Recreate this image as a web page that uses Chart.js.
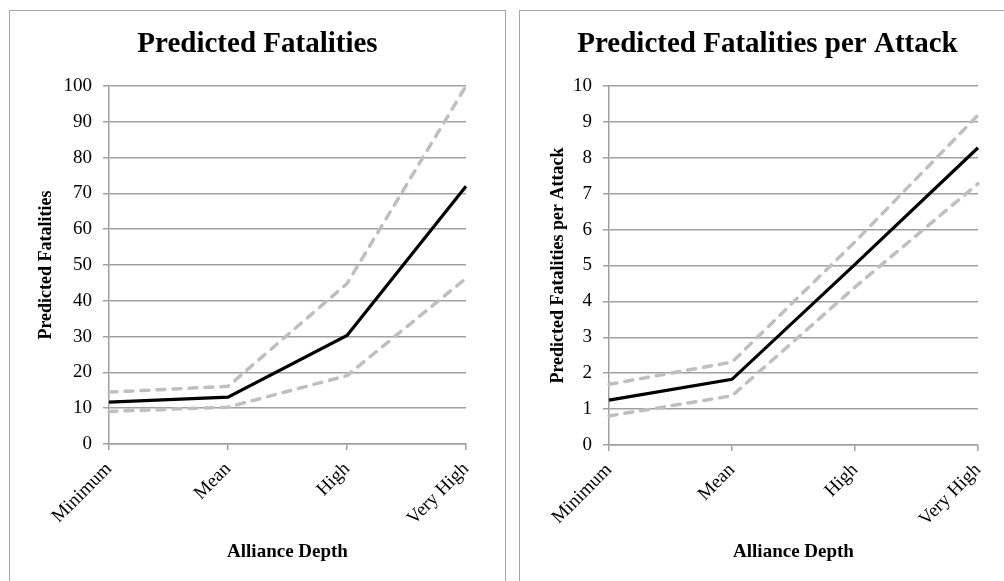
<!DOCTYPE html>
<html>
<head>
<meta charset="utf-8">
<script src="https://cdn.jsdelivr.net/npm/chart.js@4.4.1/dist/chart.umd.min.js"></script>
<style>
    html, body { margin: 0; padding: 0; background: #fff; overflow: hidden; width: 1004px; height: 581px; }
    .box { position: absolute; top: 10px; width: 495px; height: 580px; border: 1px solid #a6a6a6; }
    .box canvas { display: block; }
</style>
</head>
<body>
<div class="box" style="left: 9px;"><canvas id="fatalities-chart" width="495" height="570"></canvas></div>
<div class="box" style="left: 519px;"><canvas id="per-attack-chart" width="495" height="570"></canvas></div>

<script>
// values
const categories = ['Minimum', 'Mean', 'High', 'Very High'];

const fatalities      = [11.7, 13.1, 30.3, 72.0];
const fatalitiesUpper = [14.5, 16.1, 44.8, 100];
const fatalitiesLower = [9.1, 10.3, 19.1, 46.3];

const perAttack      = [1.25, 1.83, 5.03, 8.28];
const perAttackUpper = [1.69, 2.31, 5.66, 9.19];
const perAttackLower = [0.81, 1.37, 4.40, 7.28];

const serif = '"Liberation Serif", "Times New Roman", serif';
const gridGrey = '#a0a0a0';
const dashGrey = '#bfbfbf';

function makeChart(canvasId, cfg) {
    const datasets = [
        { data: cfg.main, borderColor: '#000', borderWidth: 3.2 },
        { data: cfg.upper, borderColor: dashGrey, borderWidth: 3.5, borderDash: [8, 8], borderCapStyle: 'round' },
        { data: cfg.lower, borderColor: dashGrey, borderWidth: 3.5, borderDash: [8, 8], borderCapStyle: 'round' }
    ].map(d => Object.assign(d, { pointRadius: 0, tension: 0, fill: false }));

    return new Chart(document.getElementById(canvasId), {
        type: 'line',
        data: { labels: categories, datasets: datasets },
        options: {
            responsive: false,
            animation: false,
            layout: { padding: 0 },
            plugins: {
                legend: { display: false },
                tooltip: { enabled: false },
                title: {
                    display: true,
                    text: cfg.title,
                    color: '#000',
                    font: { family: serif, size: 29, weight: 'bold', lineHeight: 1.2 },
                    padding: { top: 16.6, bottom: 23.6 }
                }
            },
            scales: {
                x: {
                    grid: { drawOnChartArea: false, drawTicks: true, tickLength: 6, color: gridGrey, lineWidth: 1.5 },
                    border: { color: gridGrey, width: 1.5 },
                    ticks: { color: '#000', font: { family: serif, size: 19 }, minRotation: 45, maxRotation: 45, padding: 8 },
                    title: {
                        display: true,
                        text: 'Alliance Depth',
                        color: '#000',
                        font: { family: serif, size: 19, weight: 'bold', lineHeight: 1.2 },
                        padding: { top: 0, bottom: 17.6 }
                    },
                    afterFit: scale => { scale.height = cfg.xHeight; }
                },
                y: {
                    min: 0,
                    max: cfg.max,
                    grid: { color: gridGrey, lineWidth: 1.5, tickLength: 6 },
                    border: { color: gridGrey, width: 1.5 },
                    ticks: { stepSize: cfg.step, color: '#000', font: { family: serif, size: 19 }, padding: 11 },
                    title: {
                        display: true,
                        text: cfg.yTitle,
                        color: '#000',
                        font: { family: serif, size: 18, weight: 'bold', lineHeight: 1.2 },
                        padding: { top: cfg.yTitlePad, bottom: 0 }
                    },
                    afterFit: scale => { scale.width = cfg.yWidth; }
                },
                // empty axis on the right, keeps the title centred on the box
                spacer: {
                    type: 'linear',
                    position: 'right',
                    grid: { display: false },
                    border: { display: false },
                    ticks: { display: false },
                    afterFit: scale => { scale.width = cfg.rightGap; }
                }
            }
        }
    });
}

makeChart('fatalities-chart', {
    title: 'Predicted Fatalities',
    yTitle: 'Predicted Fatalities',
    main: fatalities, upper: fatalitiesUpper, lower: fatalitiesLower,
    max: 100, step: 10,
    yWidth: 99, rightGap: 39, xHeight: 137, yTitlePad: 25.2
});

makeChart('per-attack-chart', {
    title: 'Predicted Fatalities per Attack',
    yTitle: 'Predicted Fatalities per Attack',
    main: perAttack, upper: perAttackUpper, lower: perAttackLower,
    max: 10, step: 1,
    yWidth: 89, rightGap: 37, xHeight: 136, yTitlePad: 27.2
});
</script>
</body>
</html>
